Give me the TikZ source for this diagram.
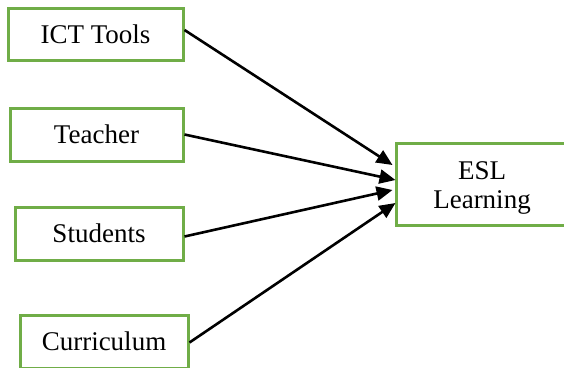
\documentclass[tikz,border=0pt]{standalone}
\usepackage{fontspec}
\setmainfont{Liberation Serif}
\usetikzlibrary{arrows.meta,calc}
\definecolor{boxgreen}{RGB}{112,173,71}
\begin{document}
\begin{tikzpicture}[x=1pt,y=-1pt,
  box/.style={draw=boxgreen,line width=3pt,inner sep=0pt,align=center,
    font=\fontsize{27}{29.5}\selectfont},
  conn/.style={line width=2.6pt,-{Triangle[length=16pt,width=14pt]}}]
\useasboundingbox (0,0) rectangle (564,367);
\clip (0,0) rectangle (564,367);
\node[box,minimum width=175pt,minimum height=52pt] (ict) at (95.5,34) {ICT Tools};
\node[box,minimum width=173pt,minimum height=53pt] (teacher) at (96.5,134.5) {Teacher};
\node[box,minimum width=168pt,minimum height=53pt] (students) at (99,233.5) {Students};
\node[box,minimum width=168pt,minimum height=53pt] (curr) at (104,341.5) {Curriculum};
\node[box,minimum width=176pt,minimum height=82pt] (esl) at (484,184) {};
\node[align=center,inner sep=0pt,font=\fontsize{27}{29.5}\selectfont] (esltext) at ($(esl.center)+(-2,4)$) {ESL\\Learning};
\draw[conn] ($(ict.east)+(0,-4)$) -- ($(esl.west)+(-2,-19)$);
\draw[conn] ($(teacher.east)+(0,0)$) -- ($(esl.west)+(1,-4)$);
\draw[conn] ($(students.east)+(0,3)$) -- ($(esl.west)+(-2,6)$);
\draw[conn] ($(curr.east)+(0,1)$) -- ($(esl.west)+(1,19)$);
\end{tikzpicture}
\end{document}
